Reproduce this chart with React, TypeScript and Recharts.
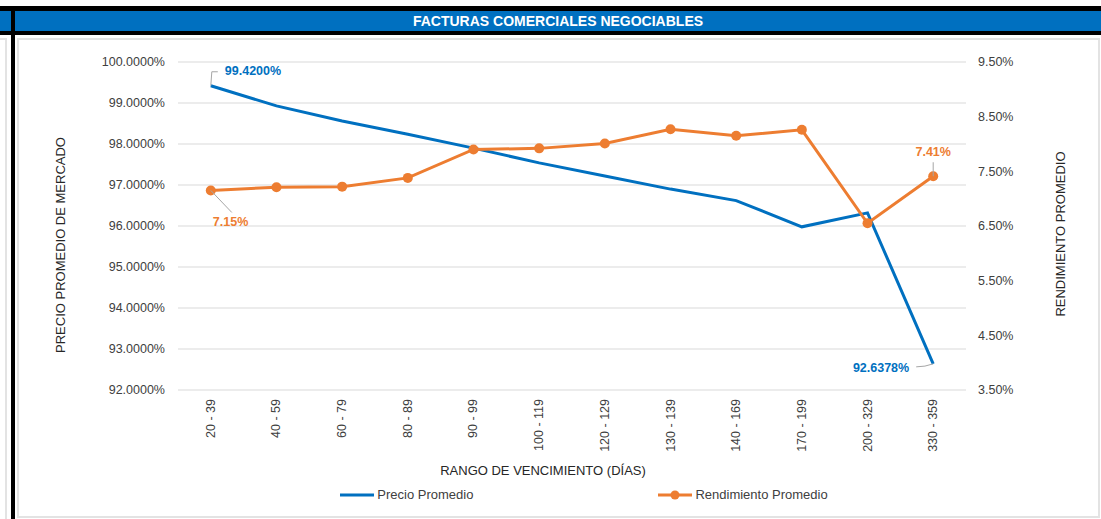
import React from 'react';
import { LineChart, Line, XAxis, YAxis, CartesianGrid, Legend, Label } from 'recharts';

const rangos = ['20 - 39', '40 - 59', '60 - 79', '80 - 89', '90 - 99', '100 - 119', '120 - 129', '130 - 139', '140 - 169', '170 - 199', '200 - 329', '330 - 359'];
const precioPromedio = [99.42, 98.93, 98.56, 98.24, 97.9, 97.54, 97.22, 96.9, 96.62, 95.98, 96.32, 92.6378];
const rendimientoPromedio = [7.15, 7.21, 7.22, 7.38, 7.9, 7.92, 8.01, 8.27, 8.15, 8.26, 6.55, 7.41];
const precioTicks = [92, 93, 94, 95, 96, 97, 98, 99, 100];
const rendimientoTicks = [3.5, 4.5, 5.5, 6.5, 7.5, 8.5, 9.5];

const data = rangos.map((rango, i) => ({
  rango,
  precio: precioPromedio[i],
  rendimiento: rendimientoPromedio[i]
}));

const BLUE = '#0070C0';
const ORANGE = '#ED7D31';
const GRID = '#D9D9D9';
const TEXT = '#404040';
const FONT = '"Liberation Sans", Arial, sans-serif';
const last = rangos.length - 1;

// etiquetas solo en el primer y ultimo punto, con su linea guia
function precioLabel(p: any) {
  if (p.index !== 0 && p.index !== last) return null;
  const x = p.viewBox?.x ?? p.x;
  const y = p.viewBox?.y ?? p.y;
  const txt = Number(p.value).toFixed(4) + '%';
  if (p.index === 0) {
    return <g>
        <path d={`M${x},${y} L${x + 1},${y - 14} L${x + 7},${y - 14}`} stroke="#A6A6A6" fill="none" strokeWidth={1} />
        <text x={x + 14} y={y - 15} dominantBaseline="central" fill={BLUE} fontWeight="bold" fontSize={12.5}>{txt}</text>
      </g>;
  }
  return <g>
      <path d={`M${x},${y} Q${x - 8},${y + 3} ${x - 17},${y + 3}`} stroke="#A6A6A6" fill="none" strokeWidth={1} />
      <text x={x - 24} y={y + 4} dominantBaseline="central" textAnchor="end" fill={BLUE} fontWeight="bold" fontSize={12.5}>{txt}</text>
    </g>;
}

function rendimientoLabel(p: any) {
  if (p.index !== 0 && p.index !== last) return null;
  const x = p.viewBox?.x ?? p.x;
  const y = p.viewBox?.y ?? p.y;
  const txt = Number(p.value).toFixed(2) + '%';
  if (p.index === 0) {
    return <g>
        <path d={`M${x},${y} L${x + 21},${y + 22}`} stroke="#A6A6A6" fill="none" strokeWidth={1} />
        <text x={x + 2} y={y + 32} dominantBaseline="central" fill={ORANGE} fontWeight="bold" fontSize={12.5}>{txt}</text>
      </g>;
  }
  return <g>
      <path d={`M${x},${y} L${x},${y - 14}`} stroke="#A6A6A6" fill="none" strokeWidth={1} />
      <text x={x} y={y - 24} dominantBaseline="central" textAnchor="middle" fill={ORANGE} fontWeight="bold" fontSize={12.5}>{txt}</text>
    </g>;
}

function RangoTick(props: any) {
  const { x, y, payload } = props;
  return <g transform={`translate(${x},${y + 9})`}>
      <text transform="rotate(-90)" textAnchor="end" dominantBaseline="central" fill={TEXT} fontSize={12.5}>
        {payload.value}
      </text>
    </g>;
}

function LegendContent(props: any) {
  const items = props.payload || [];
  return <div style={{
    display: 'flex',
    justifyContent: 'center',
    gap: 184,
    paddingLeft: 66,
    height: 20,
    lineHeight: '20px',
    fontSize: 13,
    color: TEXT
  }}>
      {items.map((it: any) => <div key={it.value} style={{ display: 'flex', alignItems: 'center' }}>
          <svg width={36} height={12} style={{ marginRight: 2 }}>
            <line x1={1} y1={6} x2={35} y2={6} stroke={it.color} strokeWidth={3} />
            {it.dataKey === 'rendimiento' && <circle cx={18} cy={6} r={4.5} fill={it.color} />}
          </svg>
          <span>{it.value}</span>
        </div>)}
    </div>;
}

export default function App() {
  return <div style={{
    position: 'absolute',
    left: 0,
    top: 0,
    width: 1101,
    height: 519,
    background: '#fff',
    fontFamily: FONT,
    overflow: 'hidden'
  }}>
      {/* barra de titulo */}
      <div style={{ position: 'absolute', left: 0, top: 6, width: 1101, height: 29, background: '#000' }} />
      <div style={{ position: 'absolute', left: 0, top: 11, width: 11, height: 20, background: BLUE }} />
      <div style={{
      position: 'absolute',
      left: 15,
      top: 11,
      width: 1086,
      height: 20,
      background: BLUE,
      color: '#fff',
      fontWeight: 'bold',
      fontSize: 14,
      lineHeight: '20px',
      textAlign: 'center'
    }}>
        FACTURAS COMERCIALES NEGOCIABLES
      </div>
      <div style={{ position: 'absolute', left: 11, top: 6, width: 4, height: 513, background: '#000' }} />
      <div style={{ position: 'absolute', left: -10, top: 38, width: 13, height: 490, border: '2px solid #E3E3E3' }} />
      <div style={{ position: 'absolute', left: 17, top: 38, width: 1079, height: 476, border: '2px solid #E3E3E3' }} />

      <div style={{ position: 'absolute', left: 0, top: 0 }}>
        <LineChart width={1101} height={519} data={data} margin={{ top: 62, right: 0, bottom: 14, left: 0 }}>
          <CartesianGrid yAxisId="left" vertical={false} stroke={GRID} strokeWidth={1} />
          <XAxis dataKey="rango" interval={0} height={95} tickSize={0} tickMargin={0} axisLine={false} tickLine={false} tick={<RangoTick />} padding={{ left: 32.8, right: 32.8 }}>
            <Label content={(p: any) => {
            const vb = p.viewBox;
            return <text x={vb.x + vb.width / 2 - 29} y={vb.y + 80} textAnchor="middle" dominantBaseline="central" fill="#262626" fontSize={13}>
                  RANGO DE VENCIMIENTO (DÍAS)
                </text>;
          }} />
          </XAxis>
          <YAxis yAxisId="left" orientation="left" width={178} domain={[92, 100]} ticks={precioTicks} interval={0} axisLine={false} tickLine={false} tickSize={0} tickMargin={13} tick={{ fill: TEXT, fontSize: 12.5 }} tickFormatter={(v: number) => v.toFixed(4) + '%'}>
            <Label content={(p: any) => {
            const vb = p.viewBox;
            const cx = vb.x + 60;
            const cy = vb.y + vb.height / 2 + 19;
            return <text x={cx} y={cy} transform={`rotate(-90, ${cx}, ${cy})`} textAnchor="middle" dominantBaseline="central" fill="#262626" fontSize={13}>
                  PRECIO PROMEDIO DE MERCADO
                </text>;
          }} />
          </YAxis>
          <YAxis yAxisId="right" orientation="right" width={135} domain={[3.5, 9.5]} ticks={rendimientoTicks} interval={0} axisLine={false} tickLine={false} tickSize={0} tickMargin={12} tick={{ fill: TEXT, fontSize: 12.5 }} tickFormatter={(v: number) => v.toFixed(2) + '%'}>
            <Label content={(p: any) => {
            const vb = p.viewBox;
            const cx = vb.x + 94;
            const cy = vb.y + vb.height / 2 + 8;
            return <text x={cx} y={cy} transform={`rotate(-90, ${cx}, ${cy})`} textAnchor="middle" dominantBaseline="central" fill="#262626" fontSize={13}>
                  RENDIMIENTO PROMEDIO
                </text>;
          }} />
          </YAxis>
          <Legend verticalAlign="bottom" content={<LegendContent />} />
          <Line yAxisId="left" type="linear" dataKey="precio" name="Precio Promedio" stroke={BLUE} strokeWidth={3} dot={false} activeDot={false} isAnimationActive={false} label={precioLabel} />
          <Line yAxisId="right" type="linear" dataKey="rendimiento" name="Rendimiento Promedio" stroke={ORANGE} strokeWidth={3} dot={{ r: 5, fill: ORANGE, stroke: ORANGE, strokeWidth: 0 }} activeDot={false} isAnimationActive={false} label={rendimientoLabel} />
        </LineChart>
      </div>
    </div>;
}
